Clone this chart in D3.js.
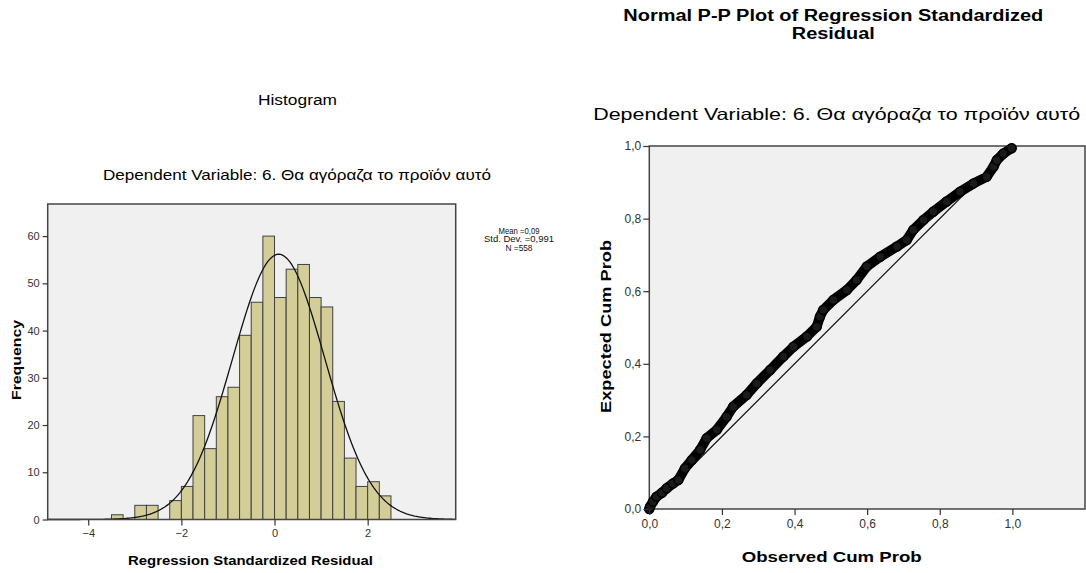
<!DOCTYPE html>
<html>
<head>
<meta charset="utf-8">
<script src="https://cdn.jsdelivr.net/npm/d3@7"></script>
<style>
body { margin: 0; background: #fff; }
svg { display: block; }
text { font-family: "Liberation Sans", Arial, sans-serif; }
</style>
</head>
<body>
<svg width="1086" height="573"></svg>
<script>
// histogram: lower edge of each bin and its count
var binLower = [-3.5, -3.25, -3.0, -2.75, -2.5, -2.25, -2.0, -1.75, -1.5, -1.25, -1.0, -0.75,
                -0.5, -0.25, 0.0, 0.25, 0.5, 0.75, 1.0, 1.25, 1.5, 1.75, 2.0, 2.25];
var binCounts = [1, 0, 3, 3, 0, 4, 7, 22, 15, 26, 28, 39,
                 46, 60, 47, 53, 54, 47, 45, 25, 13, 7, 8, 5];
var binWidth = 0.25;
var resMean = 0.09, resSd = 0.991, resN = 558;
var histXTicks = [-4, -2, 0, 2];
var histYTicks = [0, 10, 20, 30, 40, 50, 60];
var legendLines = ["Mean =0,09", "Std. Dev. =0,991", "N =558"];

// P-P plot: observed vs expected cumulative probability
var ppObserved = [0.0, 0.002, 0.01, 0.02, 0.035, 0.048, 0.065, 0.08, 0.098, 0.117, 0.14, 0.158,
                  0.186, 0.213, 0.231, 0.268, 0.296, 0.333, 0.369, 0.397, 0.434, 0.461, 0.47, 0.479,
                  0.507, 0.544, 0.571, 0.599, 0.636, 0.682, 0.709, 0.727, 0.755, 0.782, 0.819, 0.856,
                  0.893, 0.929, 0.948, 0.957, 0.975, 0.998];
var ppExpected = [0.0, 0.006, 0.02, 0.034, 0.045, 0.057, 0.07, 0.08, 0.112, 0.135, 0.163, 0.195,
                  0.218, 0.254, 0.282, 0.314, 0.346, 0.383, 0.42, 0.447, 0.475, 0.502, 0.53, 0.548,
                  0.576, 0.603, 0.631, 0.668, 0.695, 0.723, 0.741, 0.769, 0.796, 0.819, 0.847, 0.874,
                  0.897, 0.915, 0.943, 0.961, 0.979, 0.994];
var ppTicks = [0, 0.2, 0.4, 0.6, 0.8, 1.0];

var svg = d3.select("svg");
var comma = function(v) { return d3.format(".1f")(v).replace(".", ","); };

// text helper: fixed size, stretched to the width measured on the picture
function label(x, y, str, size, width, opts) {
    opts = opts || {};
    var t = svg.append("text")
        .attr("x", x).attr("y", y)
        .attr("text-anchor", "middle")
        .attr("font-size", size)
        .attr("font-weight", opts.bold ? "bold" : "normal")
        .attr("fill", opts.color || "#000")
        .text(str);
    if (width) t.attr("textLength", width).attr("lengthAdjust", "spacingAndGlyphs");
    if (opts.rotate) t.attr("transform", "rotate(-90," + x + "," + y + ")");
    return t;
}

/* ---------- histogram ---------- */
var hx = d3.scaleLinear().domain([-4.87, 3.89]).range([47.7, 455.7]);
var hy = d3.scaleLinear().domain([0, 66.8]).range([519.5, 204]);

svg.append("rect")
    .attr("x", hx.range()[0]).attr("y", hy.range()[1])
    .attr("width", hx.range()[1] - hx.range()[0])
    .attr("height", hy.range()[0] - hy.range()[1])
    .attr("fill", "#f0f0f0");

var bins = binLower.map(function(lo, i) { return {lo: lo, n: binCounts[i]}; })
    .filter(function(d) { return d.n > 0; });

svg.append("g").selectAll("rect")
    .data(bins)
    .enter().append("rect")
    .attr("x", function(d) { return hx(d.lo); })
    .attr("y", function(d) { return hy(d.n); })
    .attr("width", function(d) { return hx(d.lo + binWidth) - hx(d.lo); })
    .attr("height", function(d) { return hy(0) - hy(d.n); })
    .attr("fill", "#d3ce97")
    .attr("stroke", "#404040")
    .attr("stroke-width", 1);

// normal curve from the stated mean / sd / N
var curveX = d3.range(hx.domain()[0], hx.domain()[1] + 0.001, 0.04);
var pdf = function(x) {
    var z = (x - resMean) / resSd;
    return resN * binWidth * Math.exp(-0.5 * z * z) / (resSd * Math.sqrt(2 * Math.PI));
};
svg.append("path")
    .datum(curveX)
    .attr("fill", "none")
    .attr("stroke", "#111")
    .attr("stroke-width", 1.3)
    .attr("d", d3.line().x(function(d) { return hx(d); }).y(function(d) { return hy(pdf(d)); }));

svg.append("rect")
    .attr("x", hx.range()[0]).attr("y", hy.range()[1])
    .attr("width", hx.range()[1] - hx.range()[0])
    .attr("height", hy.range()[0] - hy.range()[1])
    .attr("fill", "none")
    .attr("stroke", "#444")
    .attr("stroke-width", 1.5);

var hxAxis = svg.append("g")
    .attr("transform", "translate(0," + hy(0) + ")")
    .call(d3.axisBottom(hx).tickValues(histXTicks).tickSize(6).tickSizeOuter(0).tickPadding(4));
var hyAxis = svg.append("g")
    .attr("transform", "translate(" + hx.range()[0] + ",0)")
    .call(d3.axisLeft(hy).tickValues(histYTicks).tickSize(5).tickSizeOuter(0).tickPadding(3));
[hxAxis, hyAxis].forEach(function(a) {
    a.select(".domain").remove();
    a.selectAll(".tick line").attr("stroke", "#333").attr("stroke-width", 1.2);
    a.selectAll("text").attr("font-size", 11).attr("fill", "#333")
        .attr("font-family", "Liberation Sans, Arial, sans-serif");
});

label(297.5, 105, "Histogram", 14, 79);
label(297, 180, "Dependent Variable: 6. Θα αγόραζα το προϊόν αυτό", 14.5, 388);
label(20.5, 360, "Frequency", 13, 80, {bold: true, rotate: true});
label(250.5, 565, "Regression Standardized Residual", 13, 245, {bold: true});

var legendWidths = [41, 70, 27];
legendLines.forEach(function(s, i) {
    label(519, 233.5 + i * 8.5, s, 8.5, legendWidths[i], {color: "#111"});
});

/* ---------- P-P plot ---------- */
var px = d3.scaleLinear().domain([0, 1.2]).range([649.3, 1085]);
var py = d3.scaleLinear().domain([0, 1]).range([509, 146]);

svg.append("rect")
    .attr("x", px.range()[0]).attr("y", py.range()[1])
    .attr("width", px.range()[1] - px.range()[0])
    .attr("height", py.range()[0] - py.range()[1])
    .attr("fill", "#f0f0f0")
    .attr("stroke", "#444")
    .attr("stroke-width", 1.5);

svg.append("line")
    .attr("x1", px(0)).attr("y1", py(0))
    .attr("x2", px(1)).attr("y2", py(1))
    .attr("stroke", "#111")
    .attr("stroke-width", 1.2);

var ppData = ppObserved.map(function(o, i) { return [o, ppExpected[i]]; });

svg.append("path")
    .datum(ppData)
    .attr("fill", "none")
    .attr("stroke", "#000")
    .attr("stroke-width", 10)
    .attr("stroke-linecap", "round")
    .attr("stroke-linejoin", "round")
    .attr("d", d3.line().x(function(d) { return px(d[0]); }).y(function(d) { return py(d[1]); }));

svg.append("g").selectAll("circle")
    .data(ppData)
    .enter().append("circle")
    .attr("cx", function(d) { return px(d[0]); })
    .attr("cy", function(d) { return py(d[1]); })
    .attr("r", 4.5)
    .attr("fill", "#1a1a1a")
    .attr("stroke", "#000")
    .attr("stroke-width", 1.5);

var pxAxis = svg.append("g")
    .attr("transform", "translate(0," + py(0) + ")")
    .call(d3.axisBottom(px).tickValues(ppTicks).tickFormat(comma).tickSize(6).tickSizeOuter(0).tickPadding(4));
var pyAxis = svg.append("g")
    .attr("transform", "translate(" + px(0) + ",0)")
    .call(d3.axisLeft(py).tickValues(ppTicks).tickFormat(comma).tickSize(6).tickSizeOuter(0).tickPadding(2));
[pxAxis, pyAxis].forEach(function(a) {
    a.select(".domain").remove();
    a.selectAll(".tick line").attr("stroke", "#333").attr("stroke-width", 1.2);
    a.selectAll("text").attr("font-size", 12).attr("fill", "#333")
        .attr("font-family", "Liberation Sans, Arial, sans-serif");
});

label(833.3, 21, "Normal P-P Plot of Regression Standardized", 16, 420, {bold: true});
label(833.3, 39, "Residual", 16, 83, {bold: true});
label(836.7, 120, "Dependent Variable: 6. Θα αγόραζα το προϊόν αυτό", 16.5, 487);
label(611, 326.5, "Expected Cum Prob", 15, 173, {bold: true, rotate: true});
label(831.7, 562, "Observed Cum Prob", 15, 180, {bold: true});
</script>
</body>
</html>
